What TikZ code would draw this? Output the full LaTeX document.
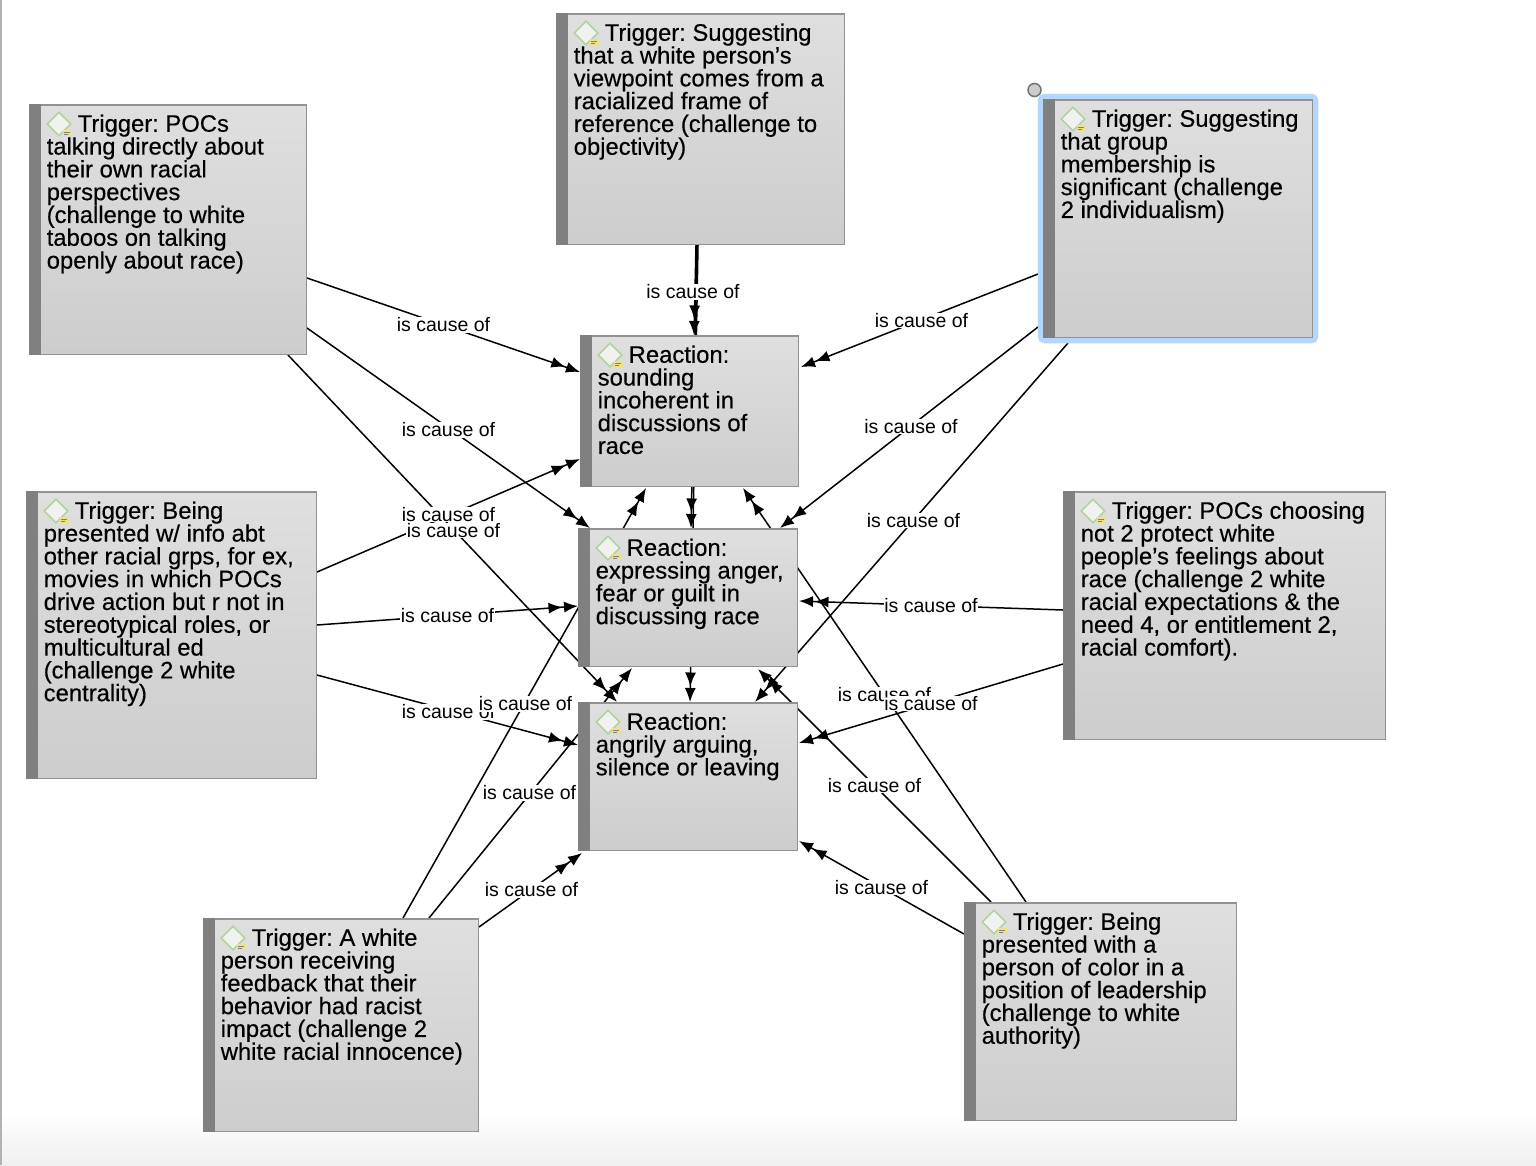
\documentclass[tikz,border=0pt]{standalone}
\usepackage{fontspec}
\setmainfont{Liberation Sans}
\newfontfamily\boxfont{Liberation Sans}[FakeBold=0.4]
\usetikzlibrary{arrows.meta,shapes.geometric}
\pgfdeclarelayer{canvas}
\pgfdeclarelayer{wires}
\pgfsetlayers{canvas,wires,main}
\definecolor{boxtop}{HTML}{DFDFDF}
\definecolor{boxbot}{HTML}{CDCDCD}
\definecolor{boxline}{HTML}{929292}
\definecolor{stripe}{HTML}{808080}
\definecolor{selblue}{HTML}{B5D5FB}
\definecolor{icongreen}{HTML}{B2D39B}
\definecolor{iconfill}{HTML}{F1F2EF}
\definecolor{notey}{HTML}{EFE08A}
\tikzset{
  mapbox/.style={draw=boxline,line width=1.5pt,top color=boxtop,bottom color=boxbot,shape=rectangle,inner sep=0pt,outer sep=0pt},
  boxtext/.style={anchor=north west,inner sep=0pt,outer sep=0pt,align=left,text=black,font=\boxfont\fontsize{23.8}{22.8}\selectfont\frenchspacing},
  icon/.style={shape=diamond,draw=icongreen,fill=iconfill,line width=1.6pt,minimum width=24pt,minimum height=24pt,inner sep=0pt},
  notemark/.style={shape=rectangle,fill=notey,minimum width=9pt,minimum height=6.5pt,inner sep=0pt},
  conn/.style={draw=black,line width=1.5pt,-{Latex[length=14pt,width=11pt,sep=1.5pt]Latex[length=14pt,width=11pt,sep=0pt]}},
  lab/.style={fill=white,inner sep=0.5pt,text height=14pt,text depth=0.5pt,font=\fontsize{19.5}{22}\selectfont\frenchspacing}
}
\newcommand\mapbox[6]{%
  \pgfmathsetmacro\cxx{(#2+#4)/2}\pgfmathsetmacro\cyy{(#3+#5)/2}%
  \pgfmathsetmacro\ww{#4-#2-1.5}\pgfmathsetmacro\hh{#5-#3-1.5}%
  \node[mapbox,minimum width=\ww pt,minimum height=\hh pt] (#1) at (\cxx,\cyy) {};
  \fill[stripe] ([xshift=-0.75pt,yshift=0.75pt]#1.north west) rectangle ([xshift=11.5pt,yshift=-0.75pt]#1.south west);
  \node[icon] (#1-i) at ([xshift=29.25pt,yshift=-19.25pt]#1.north west) {};
  \node[notemark] (#1-n) at ([xshift=37.25pt,yshift=-28.25pt]#1.north west) {};
  \draw[stripe,line width=0.8pt] ([xshift=-3pt,yshift=1pt]#1-n.center) -- ([xshift=3pt,yshift=1pt]#1-n.center);
  \draw[stripe,line width=0.8pt] ([xshift=-3pt,yshift=-1pt]#1-n.center) -- ([xshift=1pt,yshift=-1pt]#1-n.center);
  \node[boxtext] (#1-t) at ([xshift=17pt,yshift=-9pt]#1.north west) {\rule{0pt}{18pt}\hspace*{31pt}#6};
}
\newcommand\wire[6]{%
  \begin{pgfonlayer}{wires}
    \draw[conn] ([xshift=#2pt-0.75pt,yshift=-#3pt+0.75pt]#1.north west) -- coordinate[midway] (mid) ([xshift=#5pt-0.75pt,yshift=-#6pt+0.75pt]#4.north west);
  \end{pgfonlayer}
}
\newcommand\lnk[7][]{%
  \wire{#2}{#3}{#4}{#5}{#6}{#7}
  \node[lab,#1] (l#2#5) at (mid) {is cause of};
}
\begin{document}
\begin{tikzpicture}[x=1pt,y=-1pt]
\useasboundingbox (0,0) rectangle (1536,1165);
\begin{pgfonlayer}{canvas}
  \fill[white] (0,0) rectangle (1536,1165);
  \shade[top color=white,bottom color=black!6] (0,1112) rectangle (1536,1165);
  \fill[black!30] (0,0) rectangle (1.5,1165);
\end{pgfonlayer}

\mapbox{t1}{556}{13}{845}{245}{Trigger: Suggesting\\that a white person’s\\viewpoint comes from a\\racialized frame of\\reference (challenge to\\objectivity)}
\mapbox{t2}{29}{104}{307}{355}{Trigger: POCs\\talking directly about\\their own racial\\perspectives\\(challenge to white\\taboos on talking\\openly about race)}
\draw[selblue,line width=5.5pt,rounded corners=4pt] (1040.5,96.5) rectangle (1315.5,340.5);
\mapbox{t3}{1043}{99}{1313}{338}{Trigger: Suggesting\\that group\\membership is\\significant (challenge\\2 individualism)}
\node[shape=circle,draw=black!55,fill=black!20,line width=1.5pt,minimum size=13pt,inner sep=0pt] (handle) at (1034.5,90) {};
\mapbox{t4}{26}{491}{317}{779}{Trigger: Being\\presented w/ info abt\\other racial grps, for ex,\\movies in which POCs\\drive action but r not in\\stereotypical roles, or\\multicultural ed\\(challenge 2 white\\centrality)}
\mapbox{t5}{1063}{491}{1386}{740}{Trigger: POCs choosing\\not 2 protect white\\people’s feelings about\\race (challenge 2 white\\racial expectations \& the\\need 4, or entitlement 2,\\racial comfort).}
\mapbox{t6}{203}{918}{479}{1132}{Trigger: A white\\person receiving\\feedback that their\\behavior had racist\\impact (challenge 2\\white racial innocence)}
\mapbox{t7}{964}{902}{1237}{1121}{Trigger: Being\\presented with a\\person of color in a\\position of leadership\\(challenge to white\\authority)}
\mapbox{r1}{580}{335}{799}{487}{Reaction:\\sounding\\incoherent in\\discussions of\\race}
\mapbox{r2}{578}{528}{798}{667}{Reaction:\\expressing anger,\\fear or guilt in\\discussing race}
\mapbox{r3}{578}{702}{798}{851}{Reaction:\\angrily arguing,\\silence or leaving}

\lnk{t2}{278}{174}{r1}{0}{37}
\lnk[yshift=-2pt]{t2}{278}{224}{r2}{12}{0}
\lnk[yshift=1pt]{t4}{291}{81}{r1}{0}{124}
\lnk[yshift=-2pt,xshift=1pt]{t2}{259}{251}{r3}{39}{0}
\lnk{t4}{291}{134}{r2}{0}{78}
\lnk[yshift=-2pt,xshift=1pt]{t4}{291}{184}{r3}{0}{43}
\lnk[yshift=-1pt,xshift=1pt]{t6}{200}{0}{r1}{66}{153}
\lnk[xshift=-1pt]{t6}{226}{0}{r2}{54}{140}
\lnk[xshift=1pt]{t6}{276}{9}{r3}{4}{151}
\lnk{t7}{0}{32}{r3}{221}{139}
\lnk{t7}{27}{0}{r2}{180}{141}
\lnk{t7}{62}{0}{r1}{163}{153}
\lnk{t5}{0}{173}{r3}{221}{41}
\lnk{t5}{0}{119}{r2}{221}{73}
\lnk[xshift=2pt]{t3}{-5}{175}{r1}{221}{32}
\lnk[xshift=2pt,yshift=1pt]{t3}{-5}{228}{r2}{202}{0}
\lnk[xshift=2pt,yshift=2pt]{t3}{25}{244}{r3}{177}{0}
\lnk[xshift=-2pt,yshift=-2pt]{t1}{140}{232}{r1}{114}{0}
\wire{t1}{141}{232}{r2}{113}{0}
\wire{t1}{142}{232}{r3}{112}{0}
\end{tikzpicture}
\end{document}
